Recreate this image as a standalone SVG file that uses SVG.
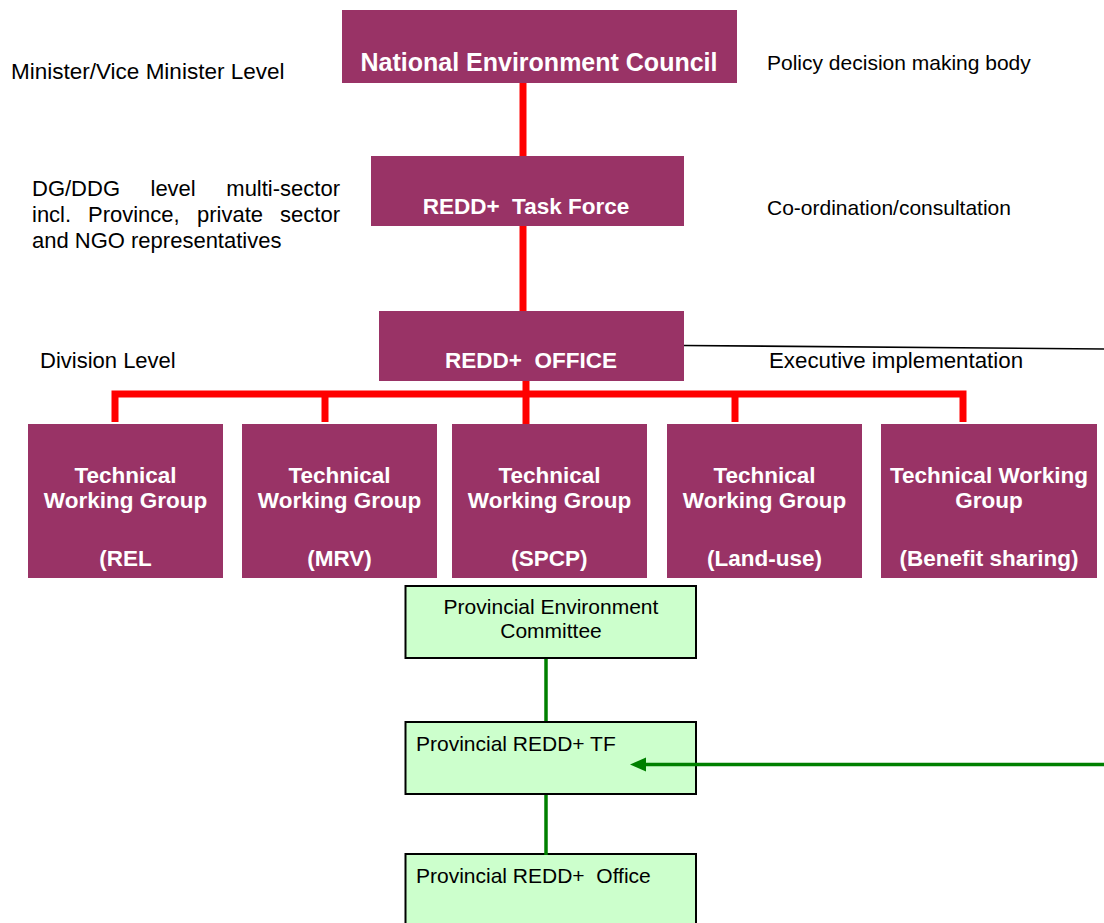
<svg xmlns="http://www.w3.org/2000/svg" width="1104" height="923" viewBox="0 0 1104 923">
<style>
.box{fill:#993366}
.bt{font-family:"Liberation Sans",Arial,sans-serif;font-weight:bold;font-size:22.5px;fill:#fff;text-anchor:middle}
.lbl{font-family:"Liberation Sans",Arial,sans-serif;font-size:22px;fill:#000}
.gbox{fill:#ccffcc;stroke:#000;stroke-width:2}
.gt{font-family:"Liberation Sans",Arial,sans-serif;font-size:21px;fill:#000}
.red{stroke:#ff0000;stroke-width:7;fill:none}
.grn{stroke:#008000;stroke-width:3.5;fill:none}
</style>
<rect width="1104" height="923" fill="#fff"/>

<g id="nec">
<rect class="box" x="342" y="10" width="395" height="73"/>
<text class="bt" x="539" y="71" style="font-size:25px">National Environment Council</text>
</g>
<g id="taskforce">
<rect class="box" x="371" y="156" width="313" height="70"/>
<text class="bt" x="526" y="214" xml:space="preserve">REDD+  Task Force</text>
</g>
<g id="office">
<rect class="box" x="379" y="311" width="305" height="70"/>
<text class="bt" x="531" y="368" xml:space="preserve">REDD+  OFFICE</text>
</g>

<g id="twg-rel">
<rect class="box" x="28" y="424" width="195" height="154"/>
<text class="bt" x="125.5" y="483">Technical</text>
<text class="bt" x="125.5" y="508">Working Group</text>
<text class="bt" x="125.5" y="566">(REL</text>
</g>
<g id="twg-mrv">
<rect class="box" x="242" y="424" width="195" height="154"/>
<text class="bt" x="339.5" y="483">Technical</text>
<text class="bt" x="339.5" y="508">Working Group</text>
<text class="bt" x="339.5" y="566">(MRV)</text>
</g>
<g id="twg-spcp">
<rect class="box" x="452" y="424" width="195" height="154"/>
<text class="bt" x="549.5" y="483">Technical</text>
<text class="bt" x="549.5" y="508">Working Group</text>
<text class="bt" x="549.5" y="566">(SPCP)</text>
</g>
<g id="twg-landuse">
<rect class="box" x="667" y="424" width="195" height="154"/>
<text class="bt" x="764.5" y="483">Technical</text>
<text class="bt" x="764.5" y="508">Working Group</text>
<text class="bt" x="764.5" y="566">(Land-use)</text>
</g>
<g id="twg-benefit">
<rect class="box" x="881" y="424" width="216" height="154"/>
<text class="bt" x="989" y="483">Technical Working</text>
<text class="bt" x="989" y="508">Group</text>
<text class="bt" x="989" y="566">(Benefit sharing)</text>
</g>

<g id="prov-committee">
<rect class="gbox" x="405.5" y="586" width="290.5" height="72"/>
<text class="gt" x="551" y="614" text-anchor="middle">Provincial Environment</text>
<text class="gt" x="551" y="638" text-anchor="middle">Committee</text>
</g>
<g id="prov-tf">
<rect class="gbox" x="405.5" y="722" width="290.5" height="72"/>
<text class="gt" x="416" y="751">Provincial REDD+ TF</text>
</g>
<g id="prov-office">
<rect class="gbox" x="405.5" y="854" width="290.5" height="80"/>
<text class="gt" x="416" y="883" xml:space="preserve">Provincial REDD+  Office</text>
</g>

<g id="labels">
<text class="lbl" x="11" y="79" style="font-size:22.5px">Minister/Vice Minister Level</text>
<text class="lbl" x="767" y="70" style="font-size:21px">Policy decision making body</text>
<text class="lbl" x="767" y="215" style="font-size:21px">Co-ordination/consultation</text>
<text class="lbl"><tspan x="32" y="196">DG/DDG</tspan><tspan x="150.5" y="196">level</tspan><tspan x="340" y="196" text-anchor="end">multi-sector</tspan></text>
<text class="lbl"><tspan x="32" y="222">incl.</tspan><tspan x="88" y="222">Province,</tspan><tspan x="197" y="222">private</tspan><tspan x="340" y="222" text-anchor="end">sector</tspan></text>
<text class="lbl" x="32" y="248">and NGO representatives</text>
<text class="lbl" x="40" y="368">Division Level</text>
<text class="lbl" x="769" y="368" style="font-size:22.3px">Executive implementation</text>
</g>

<g id="connectors">
<line class="red" x1="523" y1="83" x2="523" y2="156"/>
<line class="red" x1="523" y1="226" x2="523" y2="311"/>
<line class="red" x1="526" y1="381" x2="526" y2="424"/>
<polyline class="red" points="115,422 115,394 963,394 963,422"/>
<line class="red" x1="325" y1="394" x2="325" y2="422"/>
<line class="red" x1="735" y1="394" x2="735" y2="422"/>
<line x1="684" y1="345.5" x2="1104" y2="349" stroke="#000" stroke-width="1.6"/>
<line class="grn" x1="546" y1="659" x2="546" y2="721"/>
<line class="grn" x1="546" y1="795" x2="546" y2="855"/>
<line class="grn" x1="1104" y1="764.5" x2="645" y2="764.5"/>
<path d="M646,757.5 L630,764.5 L646,771.5 Z" fill="#008000"/>
</g>
</svg>
